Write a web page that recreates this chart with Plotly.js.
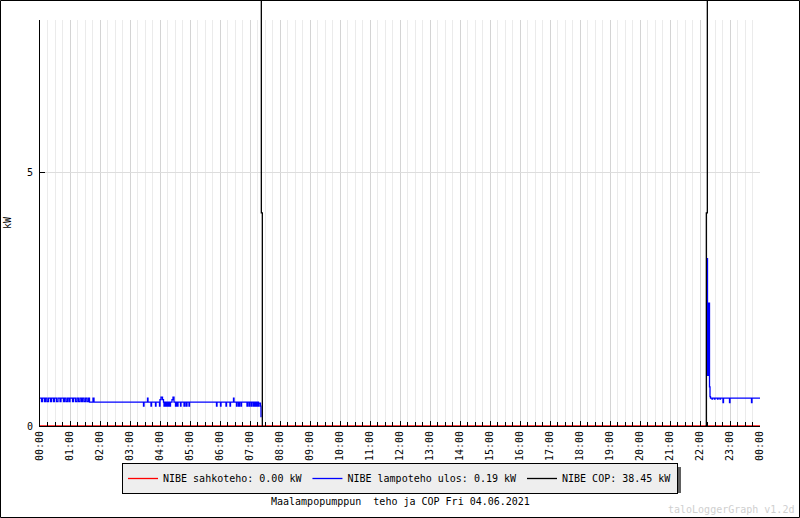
<!DOCTYPE html>
<html>
<head>
<meta charset="utf-8">
<script src="https://cdn.plot.ly/plotly-3.0.1.min.js"></script>
<style>
  html, body { margin: 0; padding: 0; background: #fff; }
  #graf { width: 800px; height: 518px; }
</style>
</head>
<body>
<div id="graf"></div>
<script>
// NIBE maalampopumppu, 04.06.2021
const paiva = "2021-06-04";

// sahkoteho (kW)
const sahkoAjat = ["00:00", "24:00"];
const sahkoArvot = [0, 0];

// lampoteho ulos (kW)
const lampoAjat = [
  "00:00", "00:03", "00:05", "00:09", "00:11", "00:14", "00:17", "00:21", "00:23", "00:27",
  "00:29", "00:33", "00:36", "00:40", "00:42", "00:47", "00:49", "00:52", "00:55", "00:58",
  "01:00", "01:05", "01:07", "01:11", "01:14", "01:17", "01:20", "01:23", "01:25", "01:28",
  "01:31", "01:34", "01:37", "01:39", "01:46", "01:48",
  "03:27", "03:28", "03:35", "03:36", "03:42", "03:43", "03:51", "03:52", "03:59", "04:00",
  "04:02", "04:05", "04:07", "04:08", "04:09", "04:11", "04:12", "04:14", "04:15", "04:17",
  "04:18", "04:20", "04:21", "04:24", "04:26", "04:28", "04:31", "04:32", "04:34", "04:36",
  "04:41", "04:42", "04:48", "04:49", "04:52", "04:54", "04:58", "04:59",
  "05:53", "05:54", "06:01", "06:02", "06:12", "06:13", "06:20", "06:21", "06:27", "06:28",
  "06:33", "06:34", "06:37", "06:39", "06:42", "06:43", "06:54", "06:55", "06:58", "06:59",
  "07:02", "07:04", "07:07", "07:08", "07:10", "07:12", "07:14", "07:15", "07:17", "07:18",
  "07:21", "07:22", "07:23",
  "22:14", "22:15", "22:17", "22:19", "22:20", "22:21", "22:24", "22:25", "22:29", "22:30",
  "22:35", "22:36", "22:40", "22:41", "22:46", "22:47", "22:59", "23:00", "23:43", "23:44",
  "24:00"
];
const lampoArvot = [
  0.55, 0.48, 0.55, 0.48, 0.55, 0.48, 0.55, 0.48, 0.55, 0.48,
  0.55, 0.48, 0.55, 0.48, 0.55, 0.48, 0.55, 0.48, 0.55, 0.48,
  0.55, 0.48, 0.55, 0.48, 0.55, 0.48, 0.55, 0.48, 0.55, 0.48,
  0.55, 0.48, 0.55, 0.47, 0.55, 0.47,
  0.39, 0.47, 0.55, 0.47, 0.39, 0.47, 0.39, 0.47, 0.39, 0.52,
  0.57, 0.52, 0.47, 0.39, 0.47, 0.39, 0.47, 0.39, 0.47, 0.39,
  0.47, 0.39, 0.47, 0.52, 0.57, 0.47, 0.39, 0.47, 0.39, 0.47,
  0.39, 0.47, 0.39, 0.47, 0.39, 0.47, 0.39, 0.47,
  0.39, 0.47, 0.39, 0.47, 0.39, 0.47, 0.39, 0.47, 0.55, 0.47,
  0.39, 0.47, 0.39, 0.47, 0.39, 0.47, 0.39, 0.47, 0.39, 0.47,
  0.39, 0.47, 0.39, 0.47, 0.39, 0.47, 0.39, 0.47, 0.39, 0.45,
  0.39, 0.17, null,
  3.3, 1.0, 2.42, 0.77, 0.58, 0.55, 0.53, 0.55, 0.53, 0.55,
  0.53, 0.55, 0.53, 0.55, 0.46, 0.55, 0.46, 0.55, 0.46, 0.55,
  0.55
];

// COP
const copAjat = ["07:21", "07:22:40", "07:24:40", "07:25", "22:11", "22:12:40", "22:14:40", "22:16"];
const copArvot = [38.45, 4.2, 0, null, 0, 4.2, 38.45, null];

const legendaTekstit = [
  "NIBE sahkoteho: 0.00 kW",
  "NIBE lampoteho ulos: 0.19 kW",
  "NIBE COP: 38.45 kW"
];
const otsikko = "Maalampopumppun\u00a0\u00a0teho ja COP Fri 04.06.2021";
const vesileima = "taloLoggerGraph v1.2d";

const aika = (s) => s === "24:00" ? "2021-06-05 00:00" : paiva + " " + s;
const fontti = "DejaVu Sans Mono, monospace";
const alku = paiva + " 00:00";
const loppu = "2021-06-05 00:00";

const data = [
  {
    type: "scatter", mode: "lines", name: legendaTekstit[0],
    x: sahkoAjat.map(aika), y: sahkoArvot,
    line: { color: "#ff0000", width: 1.3, shape: "hv" }
  },
  {
    type: "scatter", mode: "lines", name: legendaTekstit[1],
    x: lampoAjat.map(aika), y: lampoArvot,
    line: { color: "#0000ff", width: 1.3, shape: "hv" },
    connectgaps: false
  },
  {
    type: "scatter", mode: "lines", name: legendaTekstit[2],
    x: copAjat.map(aika), y: copArvot,
    xaxis: "x2", yaxis: "y2",
    line: { color: "#000000", width: 1.3, shape: "hv" },
    connectgaps: false
  }
];

const layout = {
  width: 800,
  height: 518,
  margin: { l: 40, r: 40, t: 0, b: 92 },
  paper_bgcolor: "#ffffff",
  plot_bgcolor: "rgba(0,0,0,0)",
  font: { family: fontti, size: 10, color: "#000" },
  showlegend: true,
  xaxis: {
    type: "date",
    range: [alku, loppu],
    domain: [0, 1],
    anchor: "y",
    dtick: 3600000,
    tick0: alku,
    tickformat: "%H:%M",
    tickangle: -90,
    ticks: "inside",
    ticklen: 5,
    tickcolor: "#000",
    showline: true,
    linecolor: "#000",
    linewidth: 1,
    showgrid: true,
    gridcolor: "#d4d4d4",
    gridwidth: 1,
    zeroline: false,
    layer: "above traces",
    tickfont: { family: fontti, size: 10, color: "#000" },
    minor: {
      dtick: 900000,
      ticks: "inside",
      ticklen: 4,
      tickcolor: "#000",
      showgrid: true,
      gridcolor: "#ebebeb",
      gridwidth: 1
    }
  },
  yaxis: {
    range: [0, 8],
    domain: [0, 406 / 426],
    anchor: "x",
    dtick: 5,
    ticks: "inside",
    ticklen: 5,
    tickcolor: "#000",
    ticklabelstandoff: 4,
    showline: true,
    linecolor: "#000",
    linewidth: 1,
    showgrid: true,
    gridcolor: "#dddddd",
    zeroline: false,
    layer: "above traces",
    tickfont: { family: fontti, size: 10, color: "#000" },
    title: { text: "kW", standoff: 13, font: { family: fontti, size: 10, color: "#000" } }
  },
  xaxis2: {
    type: "date",
    range: [alku, loppu],
    domain: [0, 1],
    anchor: "y2",
    visible: false
  },
  yaxis2: {
    range: [0, 8 * 426 / 406],
    domain: [0, 1],
    anchor: "x2",
    visible: false
  },
  legend: {
    orientation: "h",
    x: 0.5, xanchor: "center",
    y: (426 - 463) / 426, yanchor: "top",
    bgcolor: "#eeeeee",
    bordercolor: "#000",
    borderwidth: 1,
    font: { family: fontti, size: 10, color: "#000" },
    traceorder: "normal"
  },
  shapes: [
    // legendan varjo
    {
      type: "rect", xref: "paper", yref: "paper", layer: "above",
      x0: (126 - 40) / 720, x1: (681 - 40) / 720,
      y0: (426 - 493) / 426, y1: (426 - 467) / 426,
      fillcolor: "#606060", line: { width: 0 }
    },
    // kehys
    {
      type: "rect", xref: "paper", yref: "paper", layer: "above",
      x0: (0.5 - 40) / 720, x1: (799.5 - 40) / 720,
      y0: (426 - 517.5) / 426, y1: (426 - 0.5) / 426,
      line: { color: "#000", width: 1 }
    }
  ],
  annotations: [
    {
      text: otsikko, xref: "paper", yref: "paper",
      x: 0.5, y: (426 - 501) / 426, xanchor: "center", yanchor: "middle",
      showarrow: false, font: { family: fontti, size: 10, color: "#000" }
    },
    {
      text: vesileima, xref: "paper", yref: "paper",
      x: (796 - 40) / 720, y: (426 - 509) / 426, xanchor: "right", yanchor: "middle",
      showarrow: false, font: { family: fontti, size: 10, color: "#d0d0d0" }
    }
  ]
};

Plotly.newPlot("graf", data, layout, { staticPlot: true, displayModeBar: false });
</script>
</body>
</html>
